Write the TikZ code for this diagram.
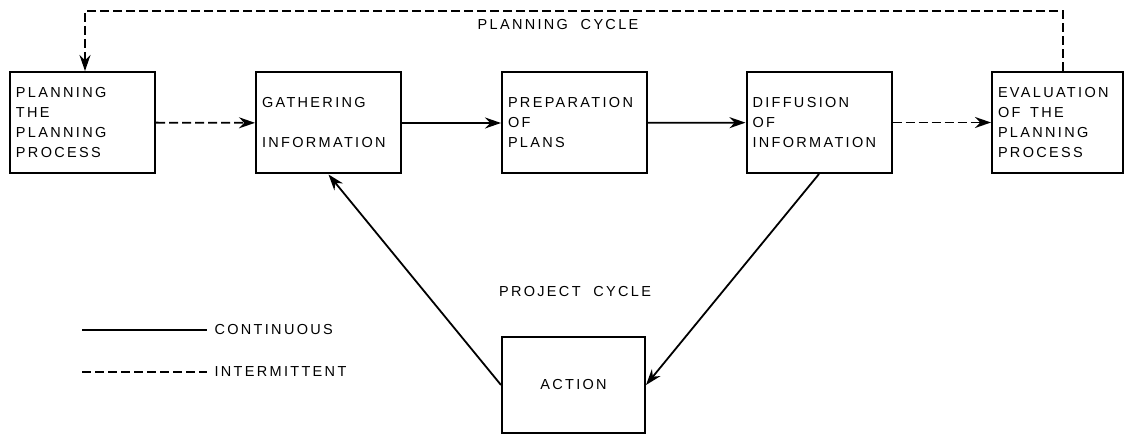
\documentclass[tikz,border=0pt]{standalone}
\usepackage{fontspec}
\setmainfont{Liberation Sans}[LetterSpace=16]
\usetikzlibrary{arrows.meta,positioning}
\newcommand{\lbl}{\fontsize{14.5}{20}\selectfont}
\tikzset{box/.style={draw, line width=2pt, minimum width=145pt,
  minimum height=101pt, text width=133pt, inner xsep=6pt, align=left,
  font=\lbl}}
\tikzset{cc/.style={draw, line width=1.8pt}}
\tikzset{ii/.style={cc, dash pattern=on 9pt off 4pt}}
\tikzset{c/.style={cc, -{Stealth[length=16pt,width=11pt]}}}
\tikzset{i/.style={ii, -{Stealth[length=16pt,width=11pt]}}}

\begin{document}
\begin{tikzpicture}[x=1pt, y=1pt]
    \useasboundingbox (0,0) rectangle (1126,-435);
    \tikzstyle{every node}=[font=\lbl]
    %%
    \node (plan) at (82.5,-122.5) [box] {PLANNING\\THE\\PLANNING\\PROCESS\\[4pt]};
    \node (gather) at (328.5,-123) [box] {GATHERING\\[20pt]INFORMATION};
    \node (prep) at (574.5,-123) [box] {PREPARATION\\OF\\PLANS};
    \node (diffuse) at (819,-122.5) [box] {DIFFUSION\\OF\\INFORMATION};
    \node (eval) at (1057.5,-122.5) [box, minimum width=131pt,
        text width=119pt] {EVALUATION\\OF\ \ THE\\PLANNING\\PROCESS\\[4pt]};
    \node (action) at (573.5,-385) [box, minimum width=143pt,
        minimum height=96pt, text width=131pt, align=center] {ACTION};
    %%
    \node (plancycle) at (558,-25) {PLANNING\ \ CYCLE};
    \node (projcycle) at (575,-292) {PROJECT\ \ CYCLE};
    %%
    \path[i] (plan) to (gather);
    \path[c] (gather) to (prep);
    \path[c] (prep) to (diffuse);
    \path[i] (diffuse) to (eval);
    %%
    \path[c] (diffuse.south) to (action.east);
    \path[c] (action.west) to (gather.south);
    %%
    \coordinate (loopL) at (85,-11);
    \coordinate (loopR) at (1063,-11);
    \path[i] (eval.north -| loopR) -- (loopR) -- (loopL) -- (plan.north -| loopL);
    %%
    \coordinate (contA) at (82,-330);
    \coordinate (contB) at (207,-330);
    \coordinate (intA) at (82,-372);
    \coordinate (intB) at (207,-372);
    \path[cc, line width=1.4pt] (contA) -- (contB);
    \path[ii, line width=1.4pt] (intA) -- (intB);
    \node (contlbl) [right=4pt of contB] {CONTINUOUS};
    \node (intlbl) [right=4pt of intB] {INTERMITTENT};
\end{tikzpicture}
\end{document}
